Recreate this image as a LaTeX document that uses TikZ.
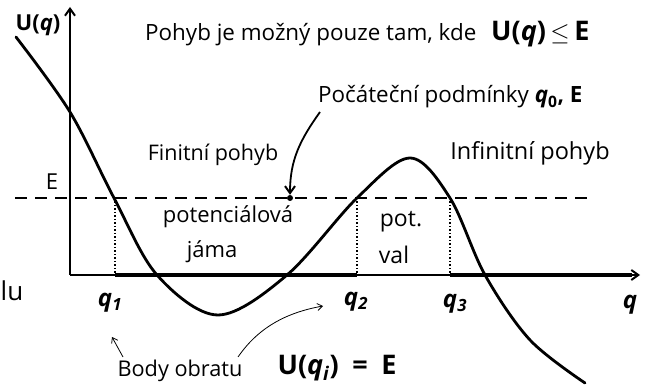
\documentclass[tikz,border=0pt]{standalone}
\usepackage{fontspec}
\setmainfont{Open Sans}
\usetikzlibrary{arrows.meta}
\newcommand{\fsz}[1]{\fontsize{#1}{#1}\selectfont}
\begin{document}
\begin{tikzpicture}[x=1pt,y=-1pt,
  txt/.style={inner sep=0pt},
  qlbl/.style={inner sep=0pt, font=\fsz{24}\bfseries\itshape},
  barb/.style={-{Straight Barb[length=7pt,width=10pt,line width=2pt]}},
  thinbarb/.style={-{Straight Barb[length=5pt,width=7pt]}}]
\useasboundingbox (0,0) rectangle (645,387);
% axes
\coordinate (O) at (70,275);
\coordinate (ytop) at (70,7);
\coordinate (xend) at (640,275);
\coordinate (Q1) at (115,275);
\coordinate (Q2) at (357,275);
\coordinate (Q3) at (450,275);
\coordinate (E1) at (115,198);
\coordinate (E2) at (357,198);
\coordinate (E3) at (450,198);
\coordinate (Ea) at (15,198);
\coordinate (Eb) at (588,198);
\draw[line width=1.6pt, barb] (O) -- (ytop);
\draw[line width=1.6pt, barb] (O) -- (xend);
\draw[line width=4pt] (Q1) -- (Q2);
\draw[line width=4pt] (Q3) -- (632,275);
% energy level
\draw[line width=1.8pt, dash pattern=on 12pt off 8pt] (Ea) -- (Eb);
% dotted verticals
\draw[line width=1.5pt, dotted] (E1) -- (Q1);
\draw[line width=1.5pt, dotted] (E2) -- (Q2);
\draw[line width=1.5pt, dotted] (E3) -- (Q3);
% potential curve
\draw[line width=2.8pt, line cap=round] plot[smooth, tension=0.55] coordinates {
 (16,37) (70,112) (114,198) (157,275) (218,315) (287,275) (357,198) (410,158) (450,198) (485,275) (530,340) (585,383)};
% labels
\node[txt, font=\fsz{22}\bfseries] (U) at (38,25) {U(\textit{q})};
\node[txt, font=\fsz{22}] (Elab) at (52,182) {E};
\node[txt, font=\fsz{22.4}, anchor=west] (cond) at (145,35) {Pohyb je možný pouze tam, kde};
\node[txt, font=\fsz{27}\bfseries, anchor=west] (condm) at (491,34) {U(\textit{q})\,$\le$\,E};
\node[txt, font=\fsz{22.4}, anchor=west] (ini) at (318,97) {Počáteční podmínky \textbf{\textit{q}\textsubscript{0}, E}};
\node[txt, font=\fsz{21.5}] (fin) at (213,155) {Finitní pohyb};
\node[txt, font=\fsz{23.5}] (inf) at (530,153) {Infinitní pohyb};
\node[txt, font=\fsz{22}] (pj1) at (228,217) {potenciálová};
\node[txt, font=\fsz{22}] (pj2) at (212,252) {jáma};
\node[txt, font=\fsz{23}] (pv1) at (401,222) {pot.};
\node[txt, font=\fsz{23}] (pv2) at (394,255) {val};
\node[txt, font=\fsz{26}] (lu) at (12,291) {lu};
\node[qlbl] (q1) at (110,303) {q\textsubscript{1}};
\node[qlbl] (q2) at (356,302) {q\textsubscript{2}};
\node[qlbl] (q3) at (455,304) {q\textsubscript{3}};
\node[qlbl] (q) at (630,305) {q};
\node[txt, font=\fsz{21.7}] (body) at (180,371) {Body obratu};
\node[txt, font=\fsz{27}\bfseries] (Uqi) at (337,368) {U(\textit{q}\textsubscript{\textit{i}})\enspace=\enspace E};
% initial condition point
\node[circle, fill, inner sep=0pt, minimum size=6pt] (dot) at (290,198) {};
\draw[line width=1.8pt, barb] (320,112) .. controls (300,140) and (290,160) .. (dot.north);
% turning point arrows
\coordinate (b1) at (123,357);
\coordinate (b2) at (238,357);
\draw[line width=0.8pt, thinbarb] (b1) -- (112,337);
\draw[line width=0.8pt, thinbarb] (b2) .. controls (260,325) and (290,312) .. (323,306);
\end{tikzpicture}
\end{document}
